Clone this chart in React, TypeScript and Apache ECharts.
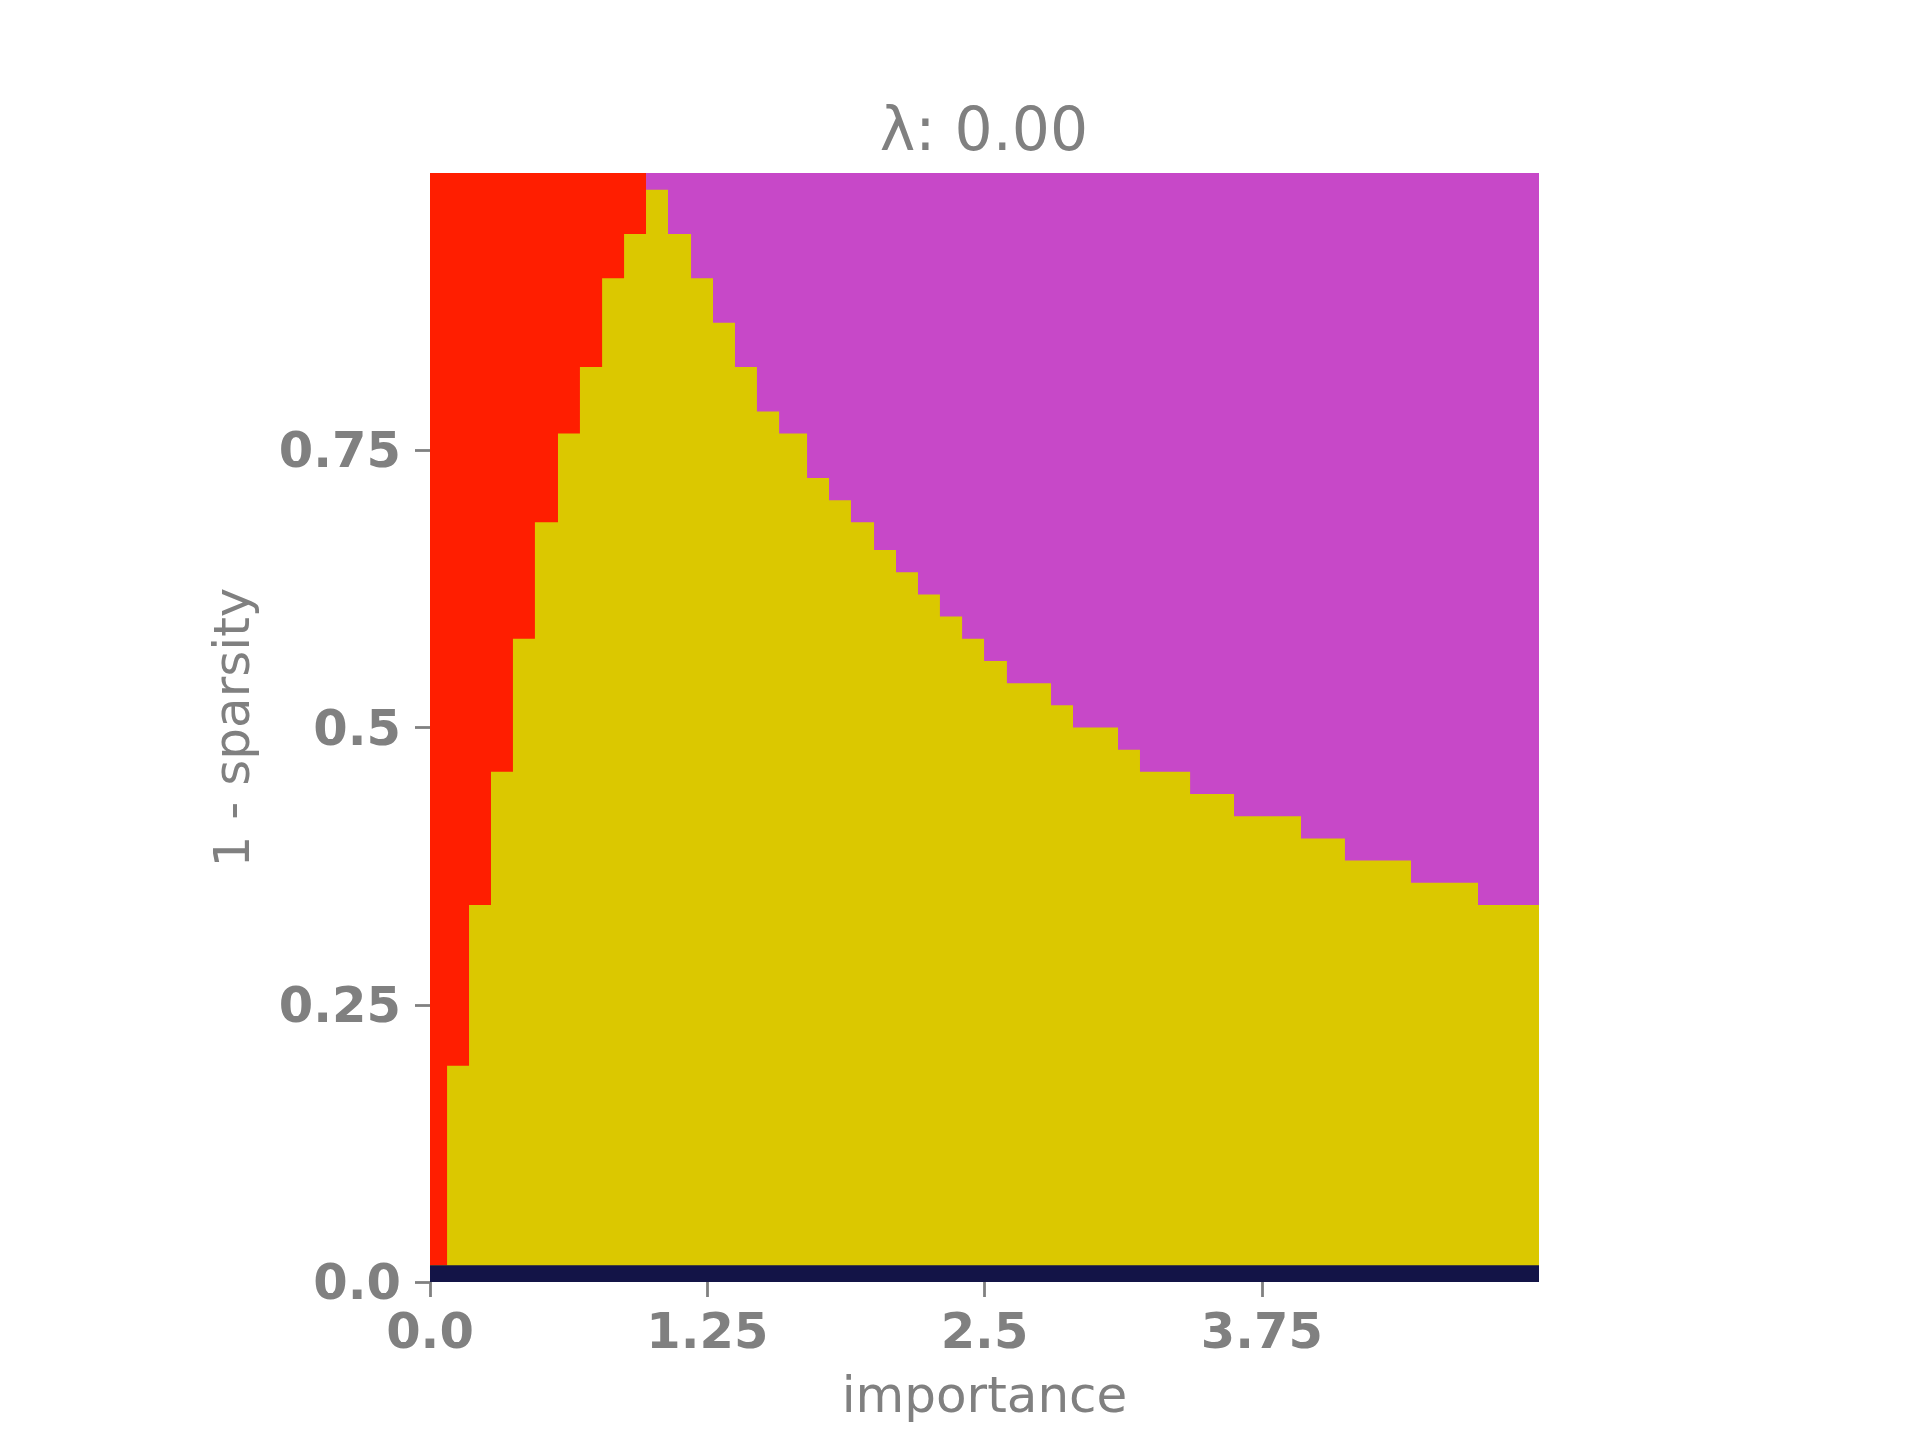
import React, { FC, useEffect, useRef } from "react";
import * as echarts from "echarts";

// column edges along "importance" (x)
const importanceEdges = [
  0, 0.077, 0.176, 0.275, 0.374, 0.473, 0.577, 0.676, 0.776, 0.875, 0.974,
  1.073, 1.177, 1.276, 1.375, 1.474, 1.574, 1.7, 1.799, 1.898, 2.002, 2.101,
  2.2, 2.299, 2.399, 2.498, 2.601, 2.8, 2.899, 3.102, 3.201, 3.427, 3.625,
  3.927, 4.125, 4.423, 4.725, 5
];
// top of the yellow region for each column ("1 - sparsity")
const yellowTop = [
  0.015, 0.195, 0.34, 0.46, 0.58, 0.685, 0.765, 0.825, 0.905, 0.945, 0.985,
  0.945, 0.905, 0.865, 0.825, 0.785, 0.765, 0.725, 0.705, 0.685, 0.66, 0.64,
  0.62, 0.6, 0.58, 0.56, 0.54, 0.52, 0.5, 0.48, 0.46, 0.44, 0.42, 0.4, 0.38,
  0.36, 0.34
];
// importance where the upper region turns from red to magenta
const redUntil = 0.974;
// the dark bottom row
const bottomRowTop = 0.015;

const xTickValues = [0, 1.25, 2.5, 3.75];
const xTickLabels = ["0.0", "1.25", "2.5", "3.75"];
const yTickValues = [0, 0.25, 0.5, 0.75];
const yTickLabels = ["0.0", "0.25", "0.5", "0.75"];

const GRAY = "#808080";
const FONT = "DejaVu Sans";

const App: FC = () => {
  const ref = useRef<HTMLDivElement>(null);

  useEffect(() => {
    const chart: any = echarts.init(ref.current, null, { renderer: "svg" });

    const yellowData = importanceEdges
      .slice(0, -1)
      .map((x, i) => [x, yellowTop[i]]);
    yellowData.push([importanceEdges[importanceEdges.length - 1], yellowTop[yellowTop.length - 1]]);

    const area = (name: string, color: string, data: number[][]) => ({
      name,
      type: "line",
      step: "end",
      data,
      showSymbol: false,
      silent: true,
      lineStyle: { width: 0, opacity: 0 },
      areaStyle: { color, opacity: 1 },
      clip: true
    });

    chart.setOption({
      animation: false,
      backgroundColor: "#fff",
      title: {
        text: "λ: 0.00",
        left: 979,
        top: 94,
        textAlign: "center",
        textStyle: {
          color: GRAY,
          fontFamily: FONT,
          fontWeight: "normal",
          fontSize: 60,
          lineHeight: 60
        }
      },
      grid: {
        left: 430,
        top: 173,
        width: 1109,
        height: 1109,
        containLabel: false,
        outerBoundsMode: "none"
      },
      xAxis: {
        type: "value",
        min: 0,
        max: 5,
        name: "importance",
        nameLocation: "middle",
        nameGap: 88,
        nameTextStyle: { color: GRAY, fontFamily: FONT, fontSize: 50, lineHeight: 50 },
        axisLine: { show: false },
        splitLine: { show: false },
        axisTick: {
          show: true,
          length: 15,
          customValues: xTickValues,
          lineStyle: { color: GRAY, width: 2.8 }
        },
        axisLabel: {
          customValues: xTickValues,
          margin: 24,
          color: GRAY,
          fontFamily: FONT,
          fontWeight: "bold",
          fontSize: 49.5,
          lineHeight: 49.5,
          formatter: (v: number) => xTickLabels[xTickValues.indexOf(v)] ?? ""
        }
      },
      yAxis: {
        type: "value",
        min: 0,
        max: 1,
        name: "1 - sparsity",
        nameLocation: "middle",
        nameGap: 173,
        nameTextStyle: { color: GRAY, fontFamily: FONT, fontSize: 50, lineHeight: 50 },
        axisLine: { show: false },
        splitLine: { show: false },
        axisTick: {
          show: true,
          length: 15,
          customValues: yTickValues,
          lineStyle: { color: GRAY, width: 2.8 }
        },
        axisLabel: {
          customValues: yTickValues,
          margin: 29,
          color: GRAY,
          fontFamily: FONT,
          fontWeight: "bold",
          fontSize: 49.5,
          formatter: (v: number) => yTickLabels[yTickValues.indexOf(v)] ?? ""
        }
      },
      series: [
        area("magenta", "#C748C8", [[redUntil, 1], [5, 1]]),
        area("red", "#FF1E00", [[0, 1], [redUntil, 1]]),
        area("yellow", "#DBC800", yellowData),
        area("navy", "#131447", [[0, bottomRowTop], [5, bottomRowTop]])
      ]
    });

    return () => {
      chart.dispose && chart.dispose();
    };
  }, []);

  return (
    <div
      ref={ref}
      style={{ position: "absolute", left: 0, top: 0, width: 1920, height: 1440 }}
    ></div>
  );
};

export default App;
